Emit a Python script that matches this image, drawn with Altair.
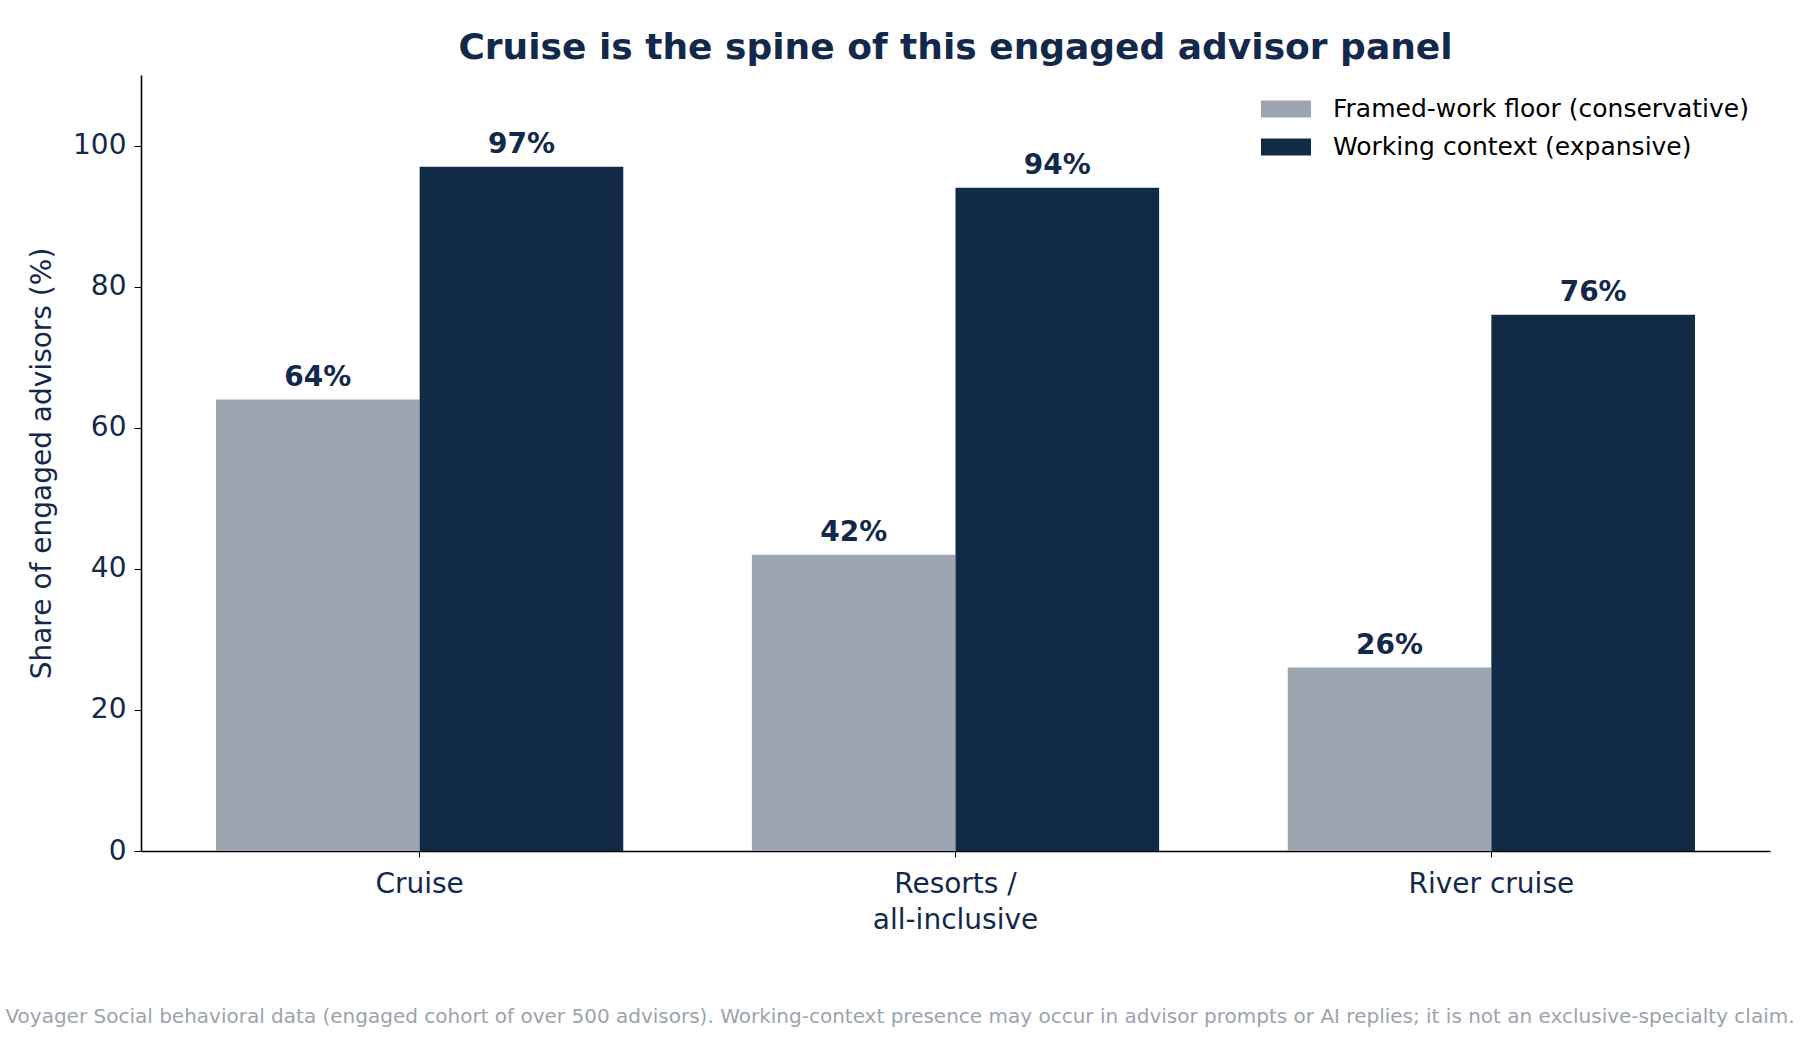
import altair as alt
import pandas as pd

categories = ["Cruise", "Resorts / all-inclusive", "River cruise"]
series_names = ["Framed-work floor (conservative)", "Working context (expansive)"]
floor_values = [64, 42, 26]
context_values = [97, 94, 76]
colors = ["#9ca5b0", "#112a46"]
navy = "#13294b"
footnote = ("Voyager Social behavioral data (engaged cohort of over 500 advisors). "
            "Working-context presence may occur in advisor prompts or AI replies; "
            "it is not an exclusive-specialty claim.")

rows = []
for c, f, w in zip(categories, floor_values, context_values):
    rows.append({"category": c, "series": series_names[0], "value": f, "label": f"{f}%"})
    rows.append({"category": c, "series": series_names[1], "value": w, "label": f"{w}%"})
df = pd.DataFrame(rows)

W, H = 1629, 776
FONT = "DejaVu Sans"

x_enc = alt.X("category:N", sort=categories,
              scale=alt.Scale(paddingInner=0.24, paddingOuter=0.14),
              axis=alt.Axis(title=None, labelAngle=0, labelFontSize=28, labelColor=navy,
                            labelFont=FONT, labelPadding=13, tickSize=6, tickColor="#000000",
                            domainColor="#000000", domainWidth=1.6, labelLineHeight=36,
                            labelExpr="datum.value == 'Resorts / all-inclusive' ? ['Resorts /', 'all-inclusive'] : datum.label"))
xo = alt.XOffset("series:N", sort=series_names,
                 scale=alt.Scale(paddingInner=0, paddingOuter=0))
y_enc = alt.Y("value:Q", scale=alt.Scale(domain=[0, 110], nice=False),
              axis=alt.Axis(title="Share of engaged advisors (%)", values=[0, 20, 40, 60, 80, 100],
                            grid=False, labelFontSize=28, labelColor=navy, labelFont=FONT,
                            titleFontSize=28, titleColor=navy, titleFont=FONT,
                            titleFontWeight="normal", titlePadding=16, labelPadding=8,
                            tickSize=7, tickColor="#000000", domainColor="#000000",
                            domainWidth=1.6))

bars = alt.Chart(df).mark_bar().encode(
    x=x_enc, xOffset=xo, y=y_enc,
    color=alt.Color("series:N", sort=series_names,
                    scale=alt.Scale(domain=series_names, range=colors),
                    legend=alt.Legend(title=None, orient="none", legendX=1120, legendY=9,
                                      labelFontSize=25, labelFont=FONT, labelColor="#000000",
                                      labelLimit=0,
                                      symbolType="M-1,-0.34L1,-0.34L1,0.34L-1,0.34Z",
                                      symbolSize=2500, symbolStrokeWidth=0, symbolOpacity=1,
                                      rowPadding=0, labelOffset=22))
)

labels = alt.Chart(df).mark_text(baseline="bottom", dy=-8, fontSize=28, fontWeight="bold",
                                 color=navy, font=FONT).encode(
    x=alt.X("category:N", sort=categories), xOffset=alt.XOffset("series:N", sort=series_names),
    y="value:Q", text="label:N")

foot = alt.Chart(pd.DataFrame({"t": [footnote]})).mark_text(
    fontSize=20, color="#9ca3ae", font=FONT, align="center", baseline="middle").encode(
    x=alt.value(759), y=alt.value(942), text="t:N")

chart = alt.layer(bars, labels, foot).properties(
    width=W, height=H,
    background="white",
    title=alt.TitleParams("Cruise is the spine of this engaged advisor panel", fontSize=36,
                          font=FONT, fontWeight="bold", color=navy, anchor="middle", offset=8),
    autosize=alt.AutoSizeParams(type="none"),
    padding={"left": 141, "top": 75, "right": 30, "bottom": 189},
).configure_view(strokeWidth=0, stroke=None)

chart.save("out.html", embed_options={"renderer": "svg", "actions": False})
